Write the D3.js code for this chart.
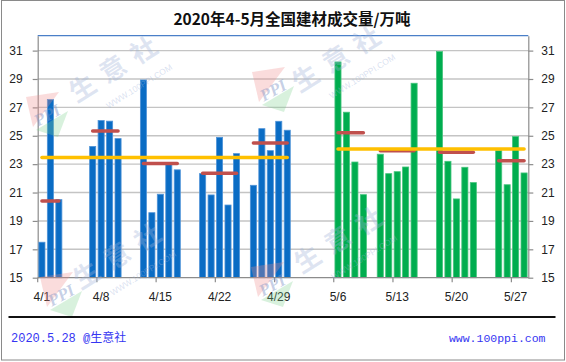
<!DOCTYPE html>
<html>
<head>
<meta charset="utf-8">
<script src="https://cdn.jsdelivr.net/npm/d3@7"></script>
<style>
  body { margin: 0; background: #fff; }
  svg { display: block; }
</style>
</head>
<body>
<svg id="chart" width="566" height="362"></svg>
<script>
// daily volumes, April (blue) and May (green)
const aprDays = ["4/1","4/2","4/3","4/7","4/8","4/9","4/10","4/13","4/14","4/15","4/16","4/17",
                 "4/20","4/21","4/22","4/23","4/24","4/26","4/27","4/28","4/29","4/30"];
const aprValues = [17.5,27.55,20.5, 24.25,26.07,26.03,24.8, 28.93,19.58,20.88,23.05,22.6,
                   22.33,20.83,24.89,20.12,23.74, 21.51,25.5,23.95,26.02,25.39];
const mayDays = ["5/6","5/7","5/8","5/9","5/11","5/12","5/13","5/14","5/15",
                 "5/18","5/19","5/20","5/21","5/22","5/25","5/26","5/27","5/28"];
const mayValues = [30.2,26.66,23.15,20.85, 23.7,22.33,22.47,22.8,28.7,
                   30.93,23.2,20.55,22.78,21.7, 23.95,21.55,24.94,22.38];

// weekly averages (red) and monthly averages (orange)
const weekStart = ["4/1","4/7","4/13","4/20","4/26","5/6","5/11","5/18","5/25"];
const weekEnd   = ["4/3","4/10","4/17","4/24","4/30","5/9","5/15","5/22","5/28"];
const weekAvg   = [20.4,25.33,23.05,22.36,24.49,25.22,23.95,23.83,23.24];
const monthStart = ["4/1","5/6"];
const monthEnd   = ["4/30","5/28"];
const monthAvg   = [23.46,24.07];

const xLabels = ["4/1","4/8","4/15","4/22","4/29","5/6","5/13","5/20","5/27"];
const yTicks = [15,17,19,21,23,25,27,29,31];

const svg = d3.select("#chart");
const pLeft = 37.7, pRight = 528.3, pTop = 35.7, pBottom = 277.7;

// every calendar day of the span is a slot
const fmt = d3.timeFormat("%-m/%-d");
const allDays = d3.timeDay.range(new Date(2020, 3, 1), new Date(2020, 4, 29)).map(fmt);

const x = d3.scaleBand().domain(allDays).range([pLeft, pRight])
  .paddingInner(0.28).paddingOuter(0.14);
const y = d3.scaleLinear().domain([15, 32.05]).range([pBottom, pTop]);
const mid = d => x(d) + x.bandwidth() / 2;
const slotStart = d => x(d) - x.step() * x.paddingInner() / 2;

// outer frame
svg.append("rect").attr("x", 1.5).attr("y", 0.5).attr("width", 563).attr("height", 359.5)
  .attr("fill", "#fff").attr("stroke", "#8a8a8a").attr("stroke-width", 1);

// title
svg.append("text").attr("x", 292).attr("y", 25).attr("text-anchor", "middle")
  .attr("font-family", "'Noto Sans CJK SC', sans-serif").attr("font-weight", "bold")
  .attr("font-size", 15.5).attr("fill", "#111")
  .text("2020年4-5月全国建材成交量/万吨");

// gridlines
svg.append("g").selectAll("line").data(yTicks.slice(1)).join("line")
  .attr("x1", pLeft).attr("x2", pRight)
  .attr("y1", d => y(d)).attr("y2", d => y(d))
  .attr("stroke", "#c4c4c4").attr("stroke-width", 1.4);

// plot top border
svg.append("line").attr("x1", pLeft).attr("x2", pRight).attr("y1", pTop).attr("y2", pTop)
  .attr("stroke", "#4a7fc8").attr("stroke-width", 1.3);

// y axes
function styleAxis(g) {
  g.select(".domain").attr("stroke", "#8c8c8c").attr("stroke-width", 1.2);
  g.selectAll(".tick line").attr("stroke", "#8c8c8c").attr("stroke-width", 1.2);
  g.selectAll(".tick text").attr("fill", "#222")
    .attr("font-family", "'Liberation Sans', Arial, sans-serif").attr("font-size", 12);
}
svg.append("g").attr("transform", `translate(${pLeft},0)`)
  .call(d3.axisLeft(y).tickValues(yTicks).tickSize(5).tickSizeOuter(0).tickPadding(10))
  .call(styleAxis);
svg.append("g").attr("transform", `translate(${pRight},0)`)
  .call(d3.axisRight(y).tickValues(yTicks).tickSize(5).tickSizeOuter(0).tickPadding(8))
  .call(styleAxis);

// bars
const bars = svg.append("g");
bars.selectAll(".apr").data(aprDays).join("rect").attr("class", "apr")
  .attr("x", d => x(d)).attr("width", x.bandwidth())
  .attr("y", (d, i) => y(aprValues[i])).attr("height", (d, i) => pBottom - y(aprValues[i]))
  .attr("fill", "#0a6cc4").attr("stroke", "#4f93d8").attr("stroke-width", 0.8);
bars.selectAll(".may").data(mayDays).join("rect").attr("class", "may")
  .attr("x", d => x(d)).attr("width", x.bandwidth())
  .attr("y", (d, i) => y(mayValues[i])).attr("height", (d, i) => pBottom - y(mayValues[i]))
  .attr("fill", "#00ad4f").attr("stroke", "#45c47c").attr("stroke-width", 0.8);

// bottom axis
svg.append("line").attr("x1", pLeft).attr("x2", pRight).attr("y1", pBottom).attr("y2", pBottom)
  .attr("stroke", "#8c8c8c").attr("stroke-width", 1.2);
svg.append("g").selectAll("line").data(xLabels).join("line")
  .attr("x1", d => slotStart(d)).attr("x2", d => slotStart(d))
  .attr("y1", pBottom).attr("y2", pBottom + 4.5)
  .attr("stroke", "#8c8c8c").attr("stroke-width", 1.2);
svg.append("g").selectAll("text").data(xLabels).join("text")
  .attr("x", d => mid(d)).attr("y", 300.5).attr("text-anchor", "middle")
  .attr("font-family", "'Liberation Sans', Arial, sans-serif").attr("font-size", 12)
  .attr("fill", "#222").text(d => d);

// weekly averages
svg.append("g").selectAll("line").data(weekAvg).join("line")
  .attr("x1", (d, i) => mid(weekStart[i])).attr("x2", (d, i) => mid(weekEnd[i]))
  .attr("y1", d => y(d)).attr("y2", d => y(d))
  .attr("stroke", "#c0504d").attr("stroke-width", 3.5).attr("stroke-linecap", "round");

// monthly averages
svg.append("g").selectAll("line").data(monthAvg).join("line")
  .attr("x1", (d, i) => mid(monthStart[i])).attr("x2", (d, i) => mid(monthEnd[i]))
  .attr("y1", d => y(d)).attr("y2", d => y(d))
  .attr("stroke", "#ffc000").attr("stroke-width", 3.5).attr("stroke-linecap", "round");

// watermarks
const marks = [[117, 66], [121, 253], [340, 56], [342, 237]];
const wm = svg.append("g").attr("pointer-events", "none");
marks.forEach(([mx, my]) => {
  const g = wm.append("g").attr("transform", `translate(${mx},${my}) rotate(-32)`);
  g.append("text").attr("text-anchor", "middle").attr("y", 10)
    .attr("font-family", "'Noto Sans CJK SC', sans-serif").attr("font-weight", "bold")
    .attr("font-size", 26).attr("letter-spacing", 10)
    .attr("fill", "#9fb3d9").attr("fill-opacity", 0.35).text("生意社");
  g.append("text").attr("text-anchor", "middle").attr("x", 8).attr("y", 32)
    .attr("font-family", "'Liberation Sans', Arial, sans-serif").attr("font-size", 8.5)
    .attr("fill", "#9fb3d9").attr("fill-opacity", 0.4).text("WWW.100PPI.COM");
});
const logos = [[47, 115], [273, 90], [61, 295], [272, 285]];
logos.forEach(([lx, ly]) => {
  const g = wm.append("g").attr("transform", `translate(${lx},${ly})`);
  g.append("polygon").attr("points", "-21,-18 12,-23 -14,12")
    .attr("fill", "#f08a8a").attr("fill-opacity", 0.3);
  g.append("polygon").attr("points", "-11,15 21,-4 11,22")
    .attr("fill", "#7fcf8f").attr("fill-opacity", 0.3);
  g.append("text").attr("text-anchor", "middle").attr("y", 6)
    .attr("transform", "rotate(-28)")
    .attr("font-family", "'Liberation Serif', serif").attr("font-weight", "bold")
    .attr("font-style", "italic").attr("font-size", 17)
    .attr("fill", "#7f95c6").attr("fill-opacity", 0.45).text("PPI");
});

// footer
svg.append("line").attr("x1", 8.5).attr("x2", 555.5).attr("y1", 317).attr("y2", 317)
  .attr("stroke", "#111").attr("stroke-width", 2);
svg.append("text").attr("x", 11).attr("y", 342)
  .attr("font-family", "'Liberation Mono', 'Noto Sans CJK SC', monospace").attr("font-size", 12)
  .attr("fill", "#3535f2").text("2020.5.28 @生意社");
svg.append("text").attr("x", 545.5).attr("y", 342).attr("text-anchor", "end")
  .attr("font-family", "'Liberation Mono', monospace").attr("font-size", 11.5)
  .attr("fill", "#3535f2").text("www.100ppi.com");
</script>
</body>
</html>
